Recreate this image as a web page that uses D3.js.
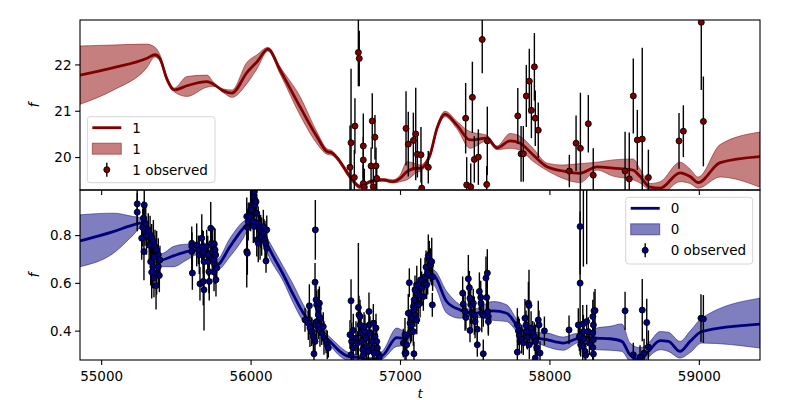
<!DOCTYPE html>
<html><head><meta charset="utf-8">
<script src="https://cdn.jsdelivr.net/npm/d3@7"></script>
<style>body{margin:0;background:#fff} text{font-family:"DejaVu Sans",sans-serif;fill:#000}</style>
</head><body><svg id="c" width="800" height="400"></svg>
<script>
// ---------- data ----------
const xTicks = [55000, 56000, 57000, 58000, 59000];
const topYTicks = [20, 21, 22];
const botYTicks = [0.4, 0.6, 0.8];

// GP posterior (band "1") knots
const topCurveT = [54855,55080,55300,55357,55390,55435,55486,55570,55705,55750,55815,55872,55973,56040,56113,56194,56327,56441,56508,56542,56575,56662,56729,56796,56883,56950,56997,57044,57111,57131,57198,57244,57298,57378,57465,57579,57646,57733,57800,57887,57981,58088,58202,58315,58422,58556,58604,58671,58738,58871,58938,58992,59139,59406];
const topCurveMean = [21.78,21.94,22.14,22.22,22.14,21.71,21.46,21.55,21.64,21.58,21.44,21.39,21.84,22.07,22.34,21.89,21.10,20.45,20.13,20.10,20.00,19.59,19.37,19.48,19.52,19.48,19.55,19.70,19.77,19.77,20.06,20.63,20.94,20.70,20.38,20.42,20.21,20.36,20.31,20.06,19.80,19.71,19.66,19.80,19.77,19.73,19.59,19.36,19.34,19.67,19.59,19.46,19.89,20.02];
const topCurveLower = [21.15,21.46,21.93,22.17,22.08,21.67,21.42,21.32,21.52,21.54,21.40,21.30,21.60,21.92,22.30,21.81,20.92,20.30,20.07,20.05,19.95,19.54,19.33,19.45,19.49,19.45,19.48,19.52,19.68,19.70,20.00,20.57,20.88,20.62,20.20,20.36,20.17,20.20,20.16,19.92,19.72,19.55,19.46,19.73,19.60,19.52,19.45,19.28,19.20,19.48,19.44,19.34,19.58,19.36];
const topCurveUpper = [22.41,22.43,22.45,22.38,22.22,21.75,21.50,21.75,21.78,21.62,21.48,21.46,22.06,22.22,22.38,21.96,21.32,20.55,20.19,20.15,20.04,19.64,19.41,19.51,19.55,19.52,19.62,19.91,19.86,19.84,20.12,20.69,21.00,20.78,20.56,20.48,20.25,20.52,20.46,20.20,19.88,19.84,19.87,19.90,19.95,19.97,19.75,19.44,19.48,19.90,19.75,19.58,20.28,20.55];

// observed "1"
const topObsT = [56718,56724,56695,56669,56662,56691,56751,56751,56751,56758,56811,56829,56803,56836,56841,56818,57037,57052,57086,57102,57113,57137,57186,57142,57436,57481,57494,57521,57443,57470,57547,57581,57577,57785,57807,57822,57842,57862,57876,57896,57902,57922,58130,58175,58204,58257,58290,58503,58531,58558,58585,58618,58659,58864,58893,59013,59027];
const topObsF = [22.27,22.14,20.68,20.32,19.79,19.57,20.25,19.95,19.44,19.36,20.79,20.44,19.82,19.82,19.55,19.37,20.63,20.29,20.37,20.51,20.07,20.06,19.79,19.34,20.85,21.30,19.96,20.01,19.41,19.37,22.55,20.36,19.42,20.90,20.08,20.08,21.33,21.65,21.02,21.96,20.85,20.59,19.71,20.31,20.20,20.73,19.62,19.71,19.54,21.33,20.38,20.40,19.57,20.36,20.57,22.92,20.78];
const topObsErr = [0.73,0.6,0.6,1.6,0.9,0.6,0.7,0.5,0.4,0.4,0.6,0.48,0.4,0.4,0.3,0.4,0.8,0.7,0.6,1.0,0.5,0.6,0.35,0.4,0.76,0.77,0.5,0.6,0.6,0.5,0.73,0.74,0.4,0.6,0.6,0.6,0.67,0.7,0.6,0.73,0.6,0.6,0.35,0.6,1.2,0.62,0.58,0.85,1.0,0.81,0.65,1.97,0.6,0.6,0.56,1.46,0.97];

// GP posterior (band "0") knots
const botCurveT = [54855,55078,55212,55257,55320,55380,55402,55479,55569,55640,55710,55770,55859,55948,56000,56060,56115,56216,56283,56350,56440,56528,56595,56651,56720,56800,56885,56975,57042,57100,57170,57220,57309,57398,57480,57621,57711,57778,57870,57979,58090,58179,58240,58313,58402,58481,58536,58604,58659,58738,58793,58871,58938,59016,59406];
const botCurveMean = [0.778,0.817,0.845,0.852,0.780,0.710,0.698,0.715,0.733,0.740,0.720,0.677,0.754,0.831,0.860,0.830,0.754,0.636,0.552,0.475,0.410,0.357,0.315,0.294,0.290,0.280,0.300,0.373,0.368,0.500,0.620,0.631,0.524,0.489,0.475,0.485,0.475,0.426,0.380,0.364,0.350,0.368,0.375,0.371,0.368,0.357,0.301,0.280,0.315,0.360,0.357,0.315,0.357,0.398,0.429];
const botCurveLower = [0.670,0.726,0.803,0.830,0.760,0.690,0.670,0.670,0.698,0.720,0.700,0.655,0.712,0.789,0.845,0.815,0.719,0.608,0.517,0.440,0.395,0.340,0.295,0.278,0.280,0.270,0.285,0.336,0.340,0.480,0.600,0.594,0.475,0.454,0.460,0.445,0.440,0.400,0.365,0.335,0.320,0.350,0.360,0.322,0.320,0.315,0.270,0.250,0.290,0.322,0.315,0.287,0.310,0.350,0.329];
const botCurveUpper = [0.887,0.894,0.880,0.875,0.800,0.730,0.725,0.754,0.764,0.760,0.740,0.700,0.789,0.859,0.875,0.845,0.782,0.670,0.594,0.510,0.425,0.375,0.335,0.310,0.300,0.290,0.320,0.413,0.395,0.520,0.640,0.656,0.566,0.510,0.490,0.524,0.510,0.450,0.395,0.392,0.375,0.390,0.390,0.413,0.420,0.430,0.350,0.330,0.350,0.398,0.395,0.357,0.400,0.454,0.538];

// observed "0"
const botObsT = [
55238,55238,55285,55279,55275,55290,55268,55283,55312,55324,55335,55346,55357,55368,55328,55342,55335,55350,55364,55379,55390,55379,55368,55386,55300,55318,55352,55295,
55603,55603,55603,55607,55636,55647,55653,55658,55670,55674,55680,55685,55680,55685,55703,55710,55714,55718,55720,55730,55736,55740,55747,55752,55754,55759,55763,55759,55765,55770,
55971,55971,55975,55975,55981,55993,55997,56004,56008,56015,56015,56022,56026,56026,56033,56038,56038,56015,56020,56048,56048,56055,56060,56064,56071,56082,56086,56093,56098,56105,56105,56100,
56430,56428,56435,56439,56450,56457,56390,56361,56383,56394,56406,56417,56428,56421,56439,56450,56461,56473,56483,56488,56502,56510,56517,56466,56450,
56669,56684,56662,56673,56684,56669,56702,56711,56718,56722,56729,56736,56740,56747,56751,56762,56769,56774,56785,56789,56791,56796,56807,56814,56823,56829,56836,56841,56845,56852,56858,56729,56756,56818,
57019,57030,57059,57052,57064,57075,57068,57086,57092,57097,57109,57119,57131,57135,57142,57153,57164,57171,57175,57182,57193,57202,57209,57215,57213,57090,57030,57042,57037,57075,57086,57097,57090,57109,57119,57186,
57416,57420,57432,57438,57454,57461,57465,57470,57477,57465,57487,57494,57499,57514,57514,57528,57537,57539,57544,57554,57554,57572,57581,57577,57584,57588,57588,
57782,57789,57782,57795,57811,57822,57833,57840,57845,57849,57856,57860,57862,57874,57885,57896,57905,57912,57902,57922,57927,57934,57963,
58128,58202,58202,58190,58197,58206,58220,58224,58228,58235,58246,58257,58264,58295,58287,58291,58287,58291,58287,58291,58302,58220,58240,58224,58246,
58503,58558,58603,58618,58630,58648,58659,59011,59027];
const botObsF = [
0.933,0.898,0.928,0.873,0.834,0.817,0.789,0.733,0.824,0.803,0.789,0.775,0.754,0.740,0.691,0.670,0.647,0.622,0.590,0.719,0.698,0.670,0.643,0.633,0.800,0.760,0.710,0.850,
0.768,0.754,0.733,0.643,0.761,0.740,0.719,0.598,0.789,0.754,0.729,0.691,0.608,0.573,0.754,0.719,0.691,0.649,0.608,0.831,0.768,0.733,0.698,0.647,0.764,0.740,0.719,0.677,0.615,0.664,
0.733,0.880,0.726,0.835,0.859,0.880,0.908,0.908,0.928,0.963,0.982,0.984,0.928,0.949,0.942,0.894,0.782,0.859,0.838,0.852,0.768,0.831,0.789,0.817,0.796,0.838,0.810,0.782,0.768,0.824,0.747,0.694,
0.824,0.605,0.531,0.510,0.496,0.517,0.506,0.447,0.433,0.413,0.398,0.377,0.357,0.305,0.440,0.426,0.405,0.392,0.419,0.371,0.357,0.343,0.329,0.454,0.468,
0.527,0.403,0.385,0.357,0.329,0.301,0.371,0.350,0.499,0.468,0.426,0.392,0.357,0.322,0.301,0.398,0.371,0.336,0.315,0.482,0.426,0.392,0.357,0.329,0.308,0.377,0.413,0.357,0.329,0.304,0.290,0.461,0.419,0.433,
0.350,0.385,0.603,0.475,0.433,0.454,0.398,0.503,0.531,0.573,0.594,0.552,0.517,0.615,0.580,0.545,0.628,0.668,0.594,0.643,0.698,0.677,0.691,0.628,0.510,0.305,0.308,0.343,0.308,0.426,0.398,0.468,0.489,0.447,0.510,0.715,
0.559,0.513,0.482,0.457,0.619,0.582,0.538,0.510,0.475,0.403,0.517,0.465,0.440,0.408,0.343,0.566,0.541,0.517,0.475,0.468,0.305,0.622,0.643,0.541,0.482,0.461,0.440,
0.426,0.401,0.312,0.382,0.366,0.350,0.454,0.426,0.398,0.373,0.517,0.507,0.343,0.413,0.392,0.377,0.357,0.331,0.287,0.447,0.426,0.308,0.401,
0.405,0.838,0.601,0.426,0.377,0.343,0.429,0.398,0.368,0.315,0.440,0.398,0.350,0.485,0.461,0.426,0.392,0.364,0.331,0.304,0.486,0.336,0.300,1.100,1.080,
0.485,0.301,0.291,0.488,0.308,0.436,0.333,0.454,0.451];
const botObsErr = [
0.09,0.08,0.10,0.07,0.08,0.06,0.09,0.12,0.07,0.08,0.06,0.09,0.07,0.08,0.10,0.09,0.11,0.08,0.10,0.07,0.06,0.08,0.09,0.07,0.08,0.06,0.09,0.07,
0.07,0.06,0.08,0.07,0.09,0.06,0.08,0.07,0.10,0.07,0.09,0.08,0.10,0.17,0.07,0.08,0.06,0.09,0.08,0.11,0.07,0.09,0.06,0.08,0.07,0.09,0.06,0.08,0.07,0.06,
0.15,0.08,0.09,0.07,0.08,0.06,0.09,0.07,0.08,0.07,0.06,0.09,0.08,0.07,0.06,0.08,0.07,0.09,0.06,0.07,0.08,0.06,0.09,0.07,0.08,0.07,0.06,0.08,0.07,0.06,0.05,0.05,
0.125,0.08,0.07,0.06,0.08,0.07,0.09,0.05,0.07,0.08,0.06,0.07,0.05,0.06,0.08,0.06,0.07,0.05,0.06,0.07,0.05,0.06,0.04,0.06,0.07,
0.09,0.07,0.06,0.08,0.05,0.06,0.07,0.05,0.27,0.08,0.06,0.07,0.05,0.06,0.05,0.07,0.06,0.08,0.05,0.08,0.06,0.07,0.05,0.06,0.05,0.07,0.06,0.05,0.06,0.05,0.04,0.07,0.06,0.08,
0.06,0.07,0.06,0.08,0.06,0.07,0.05,0.08,0.07,0.06,0.08,0.07,0.06,0.09,0.07,0.06,0.08,0.07,0.06,0.09,0.08,0.07,0.10,0.06,0.05,0.05,0.06,0.05,0.06,0.07,0.06,0.05,0.07,0.06,0.08,0.09,
0.07,0.06,0.08,0.05,0.10,0.07,0.06,0.08,0.07,0.05,0.06,0.08,0.07,0.06,0.05,0.08,0.07,0.06,0.08,0.05,0.06,0.09,0.10,0.07,0.06,0.08,0.05,
0.07,0.06,0.05,0.07,0.06,0.05,0.08,0.06,0.07,0.05,0.09,0.15,0.06,0.07,0.05,0.06,0.07,0.05,0.04,0.08,0.06,0.05,0.06,
0.06,0.20,0.30,0.07,0.06,0.05,0.08,0.07,0.06,0.05,0.07,0.06,0.05,0.08,0.07,0.06,0.05,0.07,0.06,0.05,0.09,0.06,0.05,0.43,0.40,
0.08,0.05,0.05,0.13,0.06,0.10,0.07,0.10,0.10];

const series1Name = "1", series0Name = "0";

// ---------- layout ----------
const L = 80, R = 760;
const topP = {y0: 20, y1: 190}, botP = {y0: 190, y1: 360};
const svg = d3.select("#c");
const x = d3.scaleLinear().domain([54855, 59406]).range([L, R]);
const yTop = d3.scaleLinear().domain([19.30, 22.97]).range([topP.y1, topP.y0]);
const yBot = d3.scaleLinear().domain([0.279, 0.991]).range([botP.y1, botP.y0]);

const FS = 13.5;
const defs = svg.append("defs");

function rows(T, a, b, c) {
  const n = Math.min(T.length, a.length, b.length, c ? c.length : Infinity);
  return d3.range(n).map(i => ({t: T[i], a: a[i], b: b[i], c: c ? c[i] : null}));
}

function panel(id, P, y, curve, obs, lineCol, bandCol) {
  defs.append("clipPath").attr("id", id).append("rect")
    .attr("x", L).attr("y", P.y0).attr("width", R - L).attr("height", P.y1 - P.y0);
  const g = svg.append("g").attr("clip-path", `url(#${id})`);
  const area = d3.area().x(d => x(d.t)).y0(d => y(d.b)).y1(d => y(d.c)).curve(d3.curveMonotoneX);
  const line = d3.line().x(d => x(d.t)).y(d => y(d.a)).curve(d3.curveMonotoneX);
  g.append("path").attr("d", area(curve)).attr("fill", bandCol).attr("fill-opacity", 0.5)
    .attr("stroke", bandCol).attr("stroke-opacity", 0.5).attr("stroke-width", 1);
  g.append("path").attr("d", line(curve)).attr("fill", "none").attr("stroke", lineCol).attr("stroke-width", 2.8);
  g.selectAll("line.eb").data(obs).join("line").attr("class", "eb")
    .attr("x1", d => x(d.t)).attr("x2", d => x(d.t))
    .attr("y1", d => y(d.a - d.b)).attr("y2", d => y(d.a + d.b))
    .attr("stroke", "#000").attr("stroke-width", 1.4);
  g.selectAll("circle").data(obs).join("circle")
    .attr("cx", d => x(d.t)).attr("cy", d => y(d.a)).attr("r", 3)
    .attr("fill", lineCol).attr("stroke", "#000").attr("stroke-width", 0.9);
}

panel("clipTop", topP, yTop, rows(topCurveT, topCurveMean, topCurveLower, topCurveUpper),
  rows(topObsT, topObsF, topObsErr), "#800000", "#8b0000");
panel("clipBot", botP, yBot, rows(botCurveT, botCurveMean, botCurveLower, botCurveUpper),
  rows(botObsT, botObsF, botObsErr), "#000080", "#000080");

// ---------- axes ----------
const ax = svg.append("g");
[topP, botP].forEach(P => {
  ax.append("rect").attr("x", L).attr("y", P.y0).attr("width", R - L).attr("height", P.y1 - P.y0)
    .attr("fill", "none").attr("stroke", "#000").attr("stroke-width", 1.1);
  xTicks.forEach(v => {
    ax.append("line").attr("x1", x(v)).attr("x2", x(v)).attr("y1", P.y1).attr("y2", P.y1 + 4.9)
      .attr("stroke", "#000").attr("stroke-width", 1.1);
  });
});
xTicks.forEach(v => {
  ax.append("text").attr("x", x(v)).attr("y", botP.y1 + 21).attr("text-anchor", "middle")
    .attr("font-size", FS).text(d3.format("d")(v));
});
function yAxis(ticks, y, fmt) {
  ticks.forEach(v => {
    ax.append("line").attr("x1", L - 4.9).attr("x2", L).attr("y1", y(v)).attr("y2", y(v))
      .attr("stroke", "#000").attr("stroke-width", 1.1);
    ax.append("text").attr("x", L - 8.5).attr("y", y(v)).attr("dy", "0.36em").attr("text-anchor", "end")
      .attr("font-size", FS).text(fmt(v));
  });
}
yAxis(topYTicks, yTop, d3.format("d"));
yAxis(botYTicks, yBot, d3.format(".1f"));

[topP, botP].forEach(P => {
  const cy = (P.y0 + P.y1) / 2;
  ax.append("text").attr("transform", `translate(39,${cy}) rotate(-90)`).attr("text-anchor", "middle")
    .attr("font-size", FS).attr("font-style", "italic").text("f");
});
ax.append("text").attr("x", (L + R) / 2).attr("y", 397.5).attr("text-anchor", "middle")
  .attr("font-size", 13).attr("font-style", "italic").text("t");

// ---------- legends ----------
function legend(bx, by, bw, bh, lineCol, bandCol, name) {
  const g = svg.append("g");
  g.append("rect").attr("x", bx).attr("y", by).attr("width", bw).attr("height", bh).attr("rx", 3)
    .attr("fill", "#fff").attr("fill-opacity", 0.8).attr("stroke", "#d6d6d6").attr("stroke-width", 1);
  const hx = bx + 5, r1 = by + 11, r2 = by + 32, r3 = by + 53;
  g.append("line").attr("x1", hx).attr("x2", hx + 29).attr("y1", r1).attr("y2", r1)
    .attr("stroke", lineCol).attr("stroke-width", 2.8);
  g.append("rect").attr("x", hx).attr("y", r2 - 5.5).attr("width", 29).attr("height", 11)
    .attr("fill", bandCol).attr("fill-opacity", 0.5).attr("stroke", bandCol).attr("stroke-opacity", 0.5);
  g.append("line").attr("x1", hx + 14.5).attr("x2", hx + 14.5).attr("y1", r3 - 7).attr("y2", r3 + 7)
    .attr("stroke", "#000").attr("stroke-width", 1.4);
  g.append("circle").attr("cx", hx + 14.5).attr("cy", r3).attr("r", 3)
    .attr("fill", lineCol).attr("stroke", "#000").attr("stroke-width", 0.9);
  [[r1, name], [r2, name], [r3, name + " observed"]].forEach(([yy, s]) => {
    g.append("text").attr("x", hx + 40).attr("y", yy).attr("dy", "0.36em").attr("font-size", FS).text(s);
  });
}
legend(87.3, 116.7, 127.7, 66, "#800000", "#8b0000", series1Name);
legend(625.7, 197.3, 127, 66.7, "#000080", "#000080", series0Name);
</script></body></html>
